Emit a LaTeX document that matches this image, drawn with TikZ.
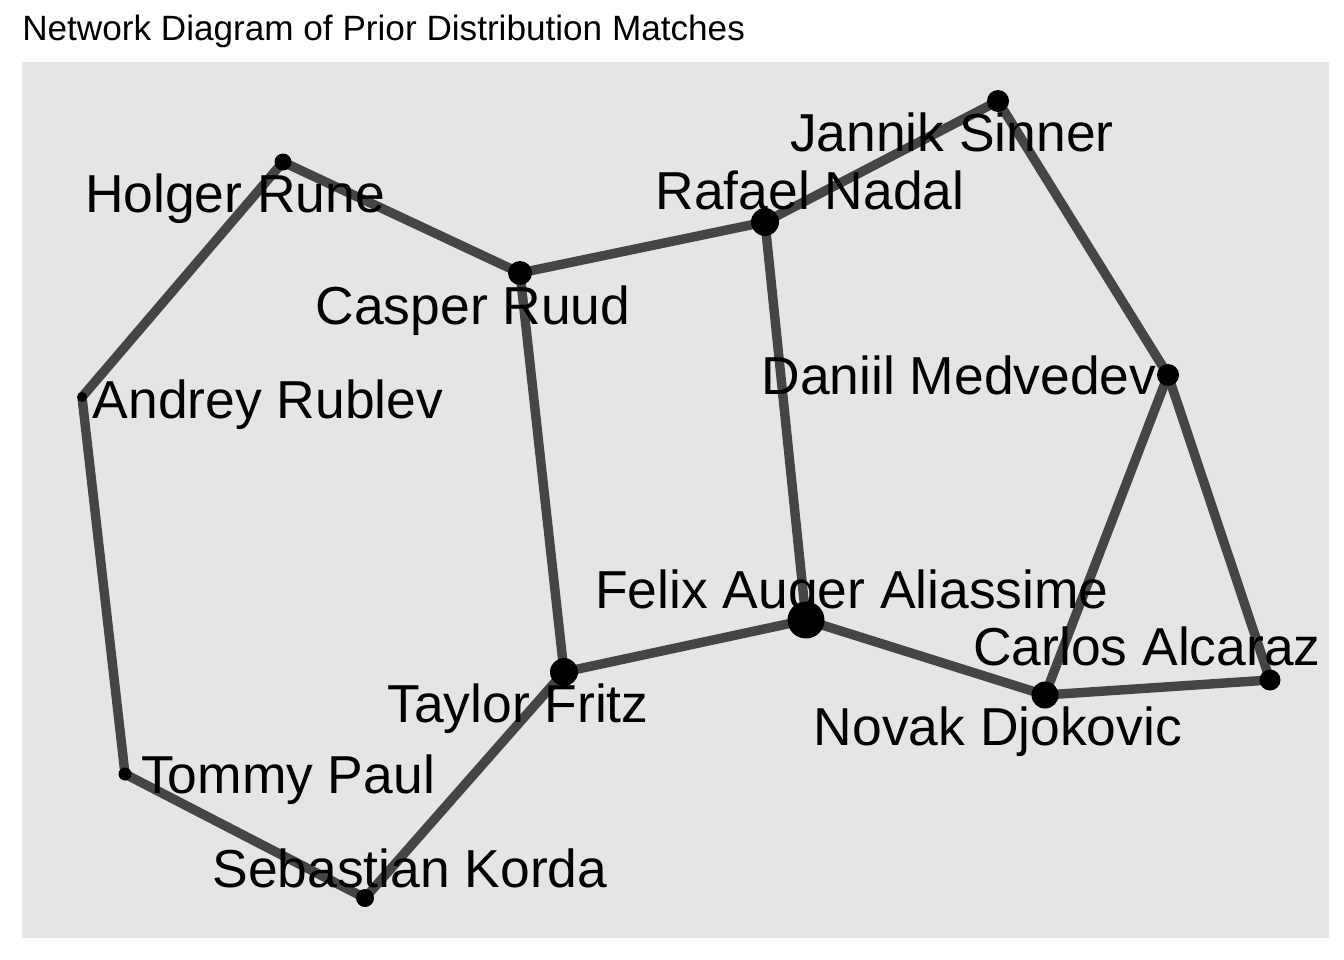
\documentclass[tikz,border=0pt]{standalone}
\usepackage{fontspec}
\setmainfont{Liberation Sans}
\pgfdeclarelayer{panel}
\pgfdeclarelayer{edges}
\pgfsetlayers{panel,edges,main}
\definecolor{panelgray}{HTML}{E5E5E5}
\definecolor{edgegray}{HTML}{454545}
\tikzset{
  player/.style={circle, fill=black, inner sep=0pt},
  matchline/.style={draw=edgegray, line width=2.35mm},
  plabel/.style={anchor=base, inner sep=0pt, font=\fontsize{38}{46}\selectfont},
}
\begin{document}
\begin{tikzpicture}[x=0.25mm, y=-0.25mm]
  \useasboundingbox (0,0) rectangle (1344,960);
  % Panel
  \begin{pgfonlayer}{panel}
    \fill[panelgray] (22,62) rectangle (1329,938);
  \end{pgfonlayer}
  \node[anchor=base west, inner sep=0pt, font=\fontsize{25}{30}\selectfont] (title) at (22,40) {Network Diagram of Prior Distribution Matches};

  % Players
  \node[player, minimum size=5.5mm]  (sinner)    at (998,101) {};
  \node[player, minimum size=4.25mm] (rune)      at (283,162) {};
  \node[player, minimum size=7mm]    (nadal)     at (765,222) {};
  \node[player, minimum size=6mm]    (ruud)      at (520,273) {};
  \node[player, minimum size=2.5mm]  (rublev)    at (82,397) {};
  \node[player, minimum size=5.5mm]  (medvedev)  at (1168,375) {};
  \node[player, minimum size=9.25mm] (auger)     at (806,620) {};
  \node[player, minimum size=7mm]    (fritz)     at (564,672) {};
  \node[player, minimum size=6.75mm] (djokovic)  at (1045,695) {};
  \node[player, minimum size=5.25mm] (alcaraz)   at (1270,680) {};
  \node[player, minimum size=3.25mm] (paul)      at (125,774) {};
  \node[player, minimum size=4.5mm]  (korda)     at (365,898) {};

  % Matches
  \begin{pgfonlayer}{edges}
    \foreach \a/\b in {rune/ruud, rune/rublev, ruud/nadal, nadal/sinner,
                       sinner/medvedev, nadal/auger, ruud/fritz, fritz/auger,
                       auger/djokovic, djokovic/alcaraz, djokovic/medvedev,
                       medvedev/alcaraz, rublev/paul, paul/korda, korda/fritz}
      \draw[matchline] (\a.center) -- (\b.center);
  \end{pgfonlayer}

  % Labels
  \node[plabel] (sinner-lbl)   at (952,151)  {Jannik Sinner};
  \node[plabel] (nadal-lbl)    at (810,209)  {Rafael Nadal};
  \node[plabel] (rune-lbl)     at (235,212)  {Holger Rune};
  \node[plabel] (ruud-lbl)     at (473,324)  {Casper Ruud};
  \node[plabel] (rublev-lbl)   at (268,418)  {Andrey Rublev};
  \node[plabel] (medvedev-lbl) at (959,394)  {Daniil Medvedev};
  \node[plabel] (auger-lbl)    at (852,608)  {Felix Auger Aliassime};
  \node[plabel] (alcaraz-lbl)  at (1147,665) {Carlos Alcaraz};
  \node[plabel] (fritz-lbl)    at (518,722)  {Taylor Fritz};
  \node[plabel] (djokovic-lbl) at (998,745)  {Novak Djokovic};
  \node[plabel] (paul-lbl)     at (288,793)  {Tommy Paul};
  \node[plabel] (korda-lbl)    at (410,887)  {Sebastian Korda};
\end{tikzpicture}
\end{document}
